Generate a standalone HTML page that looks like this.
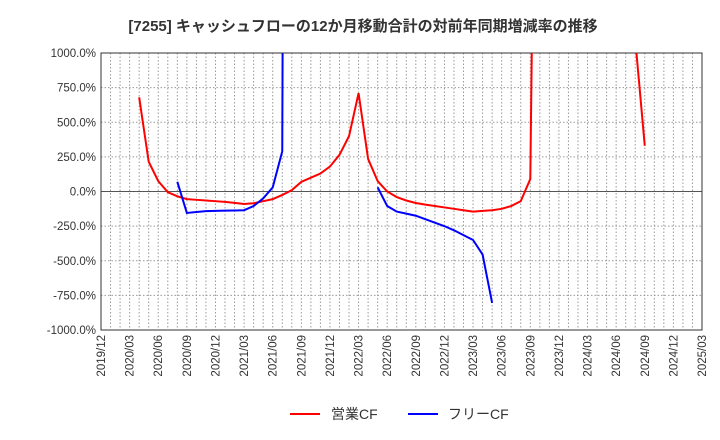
<!DOCTYPE html>
<html><head><meta charset="utf-8"><style>
body{margin:0;background:#fff;font-family:"Liberation Sans","Noto Sans CJK JP",sans-serif}
svg{display:block}
</style></head><body>
<svg id="chart" width="720" height="440" font-family="'Liberation Sans','Noto Sans CJK JP',sans-serif">
<text x="363" y="31" text-anchor="middle" font-size="15" font-weight="bold" fill="#333">[7255]  キャッシュフローの12か月移動合計の対前年同期増減率の推移</text>
<g id="grid"></g><g id="axes"></g><g id="series"></g>
<g>
<line x1="290" y1="414" x2="320" y2="414" stroke="#ff0000" stroke-width="2"/>
<text x="331" y="419" font-size="14" fill="#333">営業CF</text>
<line x1="408" y1="414" x2="438" y2="414" stroke="#0000ff" stroke-width="2"/>
<text x="448" y="419" font-size="14" fill="#333">フリーCF</text>
</g>
</svg>
<script>
const xTickLabels=["2019/12","2020/03","2020/06","2020/09","2020/12","2021/03","2021/06","2021/09","2021/12","2022/03","2022/06","2022/09","2022/12","2023/03","2023/06","2023/09","2023/12","2024/03","2024/06","2024/09","2024/12","2025/03"];
const yTicks=[1000,750,500,250,0,-250,-500,-750,-1000];
// month index from 2019/12
const opMonths=[4,5,6,7,8,9,10,11,12,13,14,15,16,17,18,19,20,21,22,23,24,25,26,27,28,29,30,31,32,33,34,35,36,37,38,39,40,41,42,43,44,45,46,56,57];
const opValues=[680,215,75,-5,-35,-55,-60,-65,-70,-75,-82,-90,-85,-70,-55,-25,10,70,100,130,180,265,400,710,235,75,0,-40,-65,-83,-95,-105,-115,-125,-135,-145,-140,-135,-125,-105,-70,90,6000,1100,330];
const fcfMonths=[8,9,10,11,12,13,14,15,16,17,18,19,20];
const fcfValues=[70,-155,-148,-142,-140,-138,-137,-135,-105,-50,30,290,20000];
const fcfMonths2=[29,30,31,32,33,34,35,36,37,38,39,40,41];
const fcfValues2=[30,-105,-145,-160,-175,-200,-225,-250,-280,-315,-350,-455,-805];
const L=101,R=702,T=53,B=330,NM=63;
const xs=m=>L+m*(R-L)/NM;
const ys=v=>B-(v+1000)*(B-T)/2000;
const NS="http://www.w3.org/2000/svg";
function mk(p,tag,at){const e=document.createElementNS(NS,tag);for(const k in at)e.setAttribute(k,at[k]);p.appendChild(e);return e;}
const grid=document.getElementById('grid'),axes=document.getElementById('axes'),ser=document.getElementById('series');
for(let m=1;m<NM;m++){const l=mk(grid,'line',{x1:xs(m),x2:xs(m),y1:T,y2:B,stroke:'#999','stroke-dasharray':'1.5,2','stroke-width':1});

}
yTicks.forEach(v=>{const y=ys(v);
const l=mk(grid,'line',{x1:L,x2:R,y1:y,y2:y,stroke:v===0?'#555':'#999','stroke-dasharray':v===0?'none':'1.5,2','stroke-width':1});


const t=mk(axes,'text',{x:L-5,y:y+4,'text-anchor':'end','font-size':11.5,fill:'#333'});t.textContent=v.toFixed(1)+'%';

});
xTickLabels.forEach((s,i)=>{const x=xs(i*3);
const t=mk(axes,'text',{x:0,y:0,'text-anchor':'end','font-size':11.5,fill:'#333',transform:`translate(${x+4},${B+5}) rotate(-90)`});t.textContent=s;

});
const fr=mk(axes,'rect',{x:L,y:T,width:R-L,height:B-T,fill:'none',stroke:'#333','stroke-width':1});


mk(ser,'clipPath',{id:'clip'}).appendChild(document.createElementNS(NS,'rect'));
const cr=document.querySelector('#clip rect');cr.setAttribute('x',L);cr.setAttribute('y',T);cr.setAttribute('width',R-L);cr.setAttribute('height',B-T);
function line(ms,vs,color,name){let d='',prev=null;
ms.forEach((m,i)=>{d+=(prev!==null&&m===prev+1?'L':'M')+xs(m).toFixed(2)+','+ys(vs[i]).toFixed(2);prev=m;});
const p=mk(ser,'path',{d:d,fill:'none',stroke:color,'stroke-width':2,'clip-path':'url(#clip)'});

}
line(opMonths,opValues,'#ff0000','operating-cf-line');
line(fcfMonths,fcfValues,'#0000ff','free-cf-line');
line(fcfMonths2,fcfValues2,'#0000ff','free-cf-line-2');
</script>
</body></html>
